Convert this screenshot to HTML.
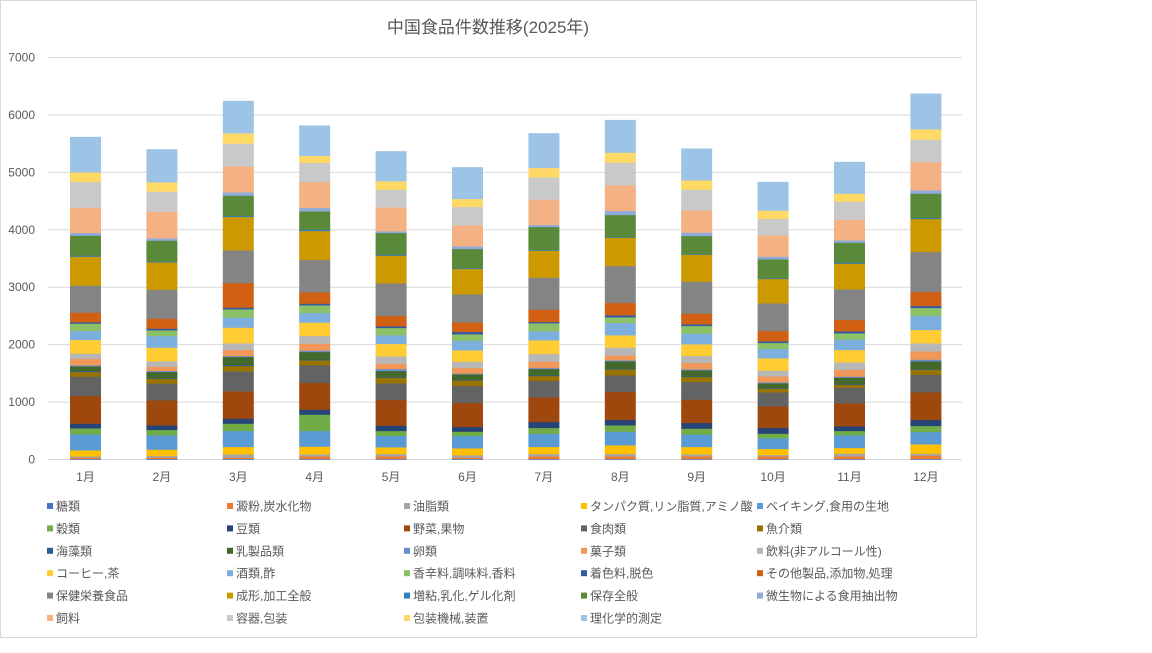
<!DOCTYPE html>
<html><head><meta charset="utf-8"><style>
body{margin:0;background:#fff;width:1152px;height:648px;overflow:hidden;font-family:"Liberation Sans","Noto Sans CJK JP",sans-serif;}
</style></head><body>
<svg id="c" width="1152" height="648" xmlns="http://www.w3.org/2000/svg" font-family="Liberation Sans, Noto Sans CJK JP, sans-serif"></svg>
<script>
const names=["糖類","澱粉,炭水化物","油脂類","タンパク質,リン脂質,アミノ酸","ベイキング,食用の生地","穀類","豆類","野菜,果物","食肉類","魚介類","海藻類","乳製品類","卵類","菓子類","飲料(非アルコール性)","コーヒー,茶","酒類,酢","香辛料,調味料,香料","着色料,脱色","その他製品,添加物,処理","保健栄養食品","成形,加工全般","増粘,乳化,ゲル化剤","保存全般","微生物による食用抽出物","飼料","容器,包装","包装機械,装置","理化学的測定"];
const cols=["#4472C4","#ED7D31","#A5A5A5","#FFC000","#5B9BD5","#70AD47","#264478","#9E480E","#636363","#997300","#255E91","#43682B","#698ED0","#F1975A","#B7B7B7","#FFCD33","#7CAFDD","#8CC168","#335AA1","#D26012","#848484","#CC9A00","#327DC2","#5A8A39","#8FAADC","#F4B183","#C9C9C9","#FFD966","#9DC3E6"];
const D=[
[2,4,4,18,48,18,14,83,58,14,3,14,3,19,16,41,27,22,4,29,81,87,3,60,8,76,77,29,106],
[2,4,5,19,43,16,14,75,50,15,2,18,3,13,16,41,35,17,5,30,87,82,2,63,7,80,60,28,99],
[2,4,10,22,48,22,15,82,60,16,3,24,3,18,20,47,30,25,5,74,98,100,3,61,10,78,68,31,97],
[2,8,6,23,47,49,15,80,53,15,2,23,4,21,23,40,29,23,5,34,97,87,4,55,10,78,57,21,91],
[2,8,7,20,34,15,16,77,50,17,2,18,6,16,22,37,26,22,5,31,98,83,3,65,5,72,53,25,90],
[2,4,7,21,37,13,14,72,51,17,2,16,2,17,19,34,29,19,7,29,84,76,2,58,8,63,55,24,95],
[2,8,7,21,40,17,18,74,49,15,2,19,3,19,23,41,27,24,4,37,96,81,2,69,6,76,67,28,104],
[2,8,7,26,41,19,16,84,50,18,2,22,3,15,23,37,37,17,6,37,111,85,2,66,12,77,68,30,98],
[2,8,6,22,37,18,17,70,53,15,2,18,3,19,21,35,32,23,5,32,96,81,2,54,10,67,62,28,95],
[2,8,4,18,32,14,17,65,42,11,2,14,3,18,17,37,28,18,5,31,83,73,2,57,8,64,49,25,86],
[2,8,8,17,38,13,14,69,47,9,2,19,3,20,23,37,31,19,6,34,92,77,3,60,7,62,54,24,95],
[2,10,6,28,37,18,18,83,53,15,2,23,5,25,24,40,42,24,6,42,120,99,3,73,10,85,67,31,107]];
let s='';
s+='<rect x="0.5" y="0.5" width="976" height="637" fill="#fff" stroke="#d9d9d9"/>';
s+='<text x="488" y="33" font-size="17" fill="#595959" text-anchor="middle">中国食品件数推移(2025年)</text>';
const y0=459.5,k=57.43;
for(let i=0;i<=7;i++){const y=y0-i*k;
 s+=`<line x1="48" x2="962" y1="${y}" y2="${y}" stroke="#d9d9d9" stroke-width="1"/>`;
 s+=`<text x="35" y="${y+4}" font-size="12" fill="#595959" text-anchor="end">${i*1000}</text>`;}
for(let b=0;b<12;b++){const cx=85.5+b*76.4;let y=y0;
 D[b].forEach((v,j)=>{const h=v/3;y-=h;s+=`<rect x="${cx-15.5}" y="${y}" width="31" height="${h+0.3}" fill="${cols[j]}"/>`;});
 s+=`<text x="${cx}" y="481" font-size="12" fill="#595959" text-anchor="middle">${b+1}月</text>`;}
const cx0=[47,227,404,581,757];
names.forEach((n,i)=>{const c=i%5,r=Math.floor(i/5);const x=cx0[c],y=507+r*22.4;
 s+=`<rect x="${x}" y="${y-4}" width="6" height="6" fill="${cols[i]}"/>`;
 s+=`<text x="${x+9}" y="${y+3.5}" font-size="12" fill="#595959">${n}</text>`;});
document.getElementById('c').innerHTML=s;
</script>
</body></html>
